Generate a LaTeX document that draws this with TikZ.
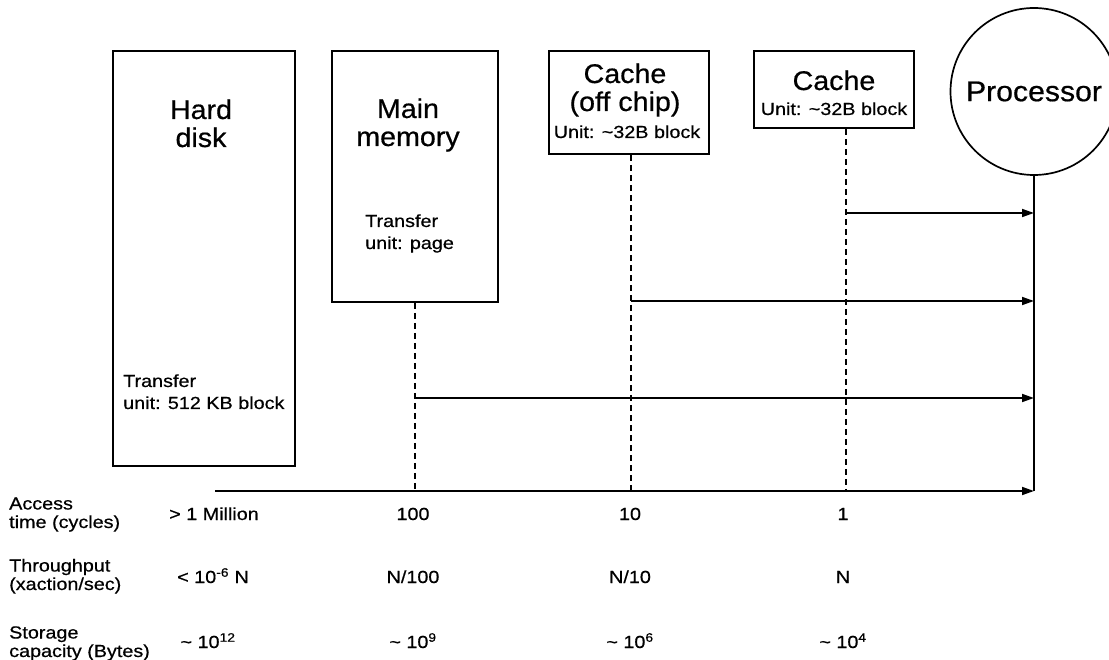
\documentclass[tikz,border=0pt]{standalone}
\usepackage{fontspec}
\setmainfont{Liberation Sans}[FakeStretch=1.13, FakeBold=0.6]
\newfontfamily\bigfam{Liberation Sans}[FakeStretch=1.06, FakeBold=0.6]
\usetikzlibrary{arrows.meta}
\begin{document}
\begin{tikzpicture}[x=1pt,y=-1pt,
  box/.style={draw, line width=1.7pt, inner sep=0pt, rectangle},
  bigtxt/.style={font=\bigfam\fontsize{27}{28}\selectfont, align=center, anchor=base, inner sep=0pt},
  smalltxt/.style={font=\fontsize{17.5}{22}\selectfont, inner sep=0pt},
  dashline/.style={line width=1.7pt, dash pattern=on 6pt off 4pt},
  arr/.style={line width=1.7pt, -{Triangle[length=12pt,width=8pt]}},
  plain/.style={line width=1.7pt}]
\useasboundingbox (0,0) rectangle (1109,660);
\clip (0,0) rectangle (1109,660);

% boxes
\node[box, minimum width=182pt, minimum height=415pt] (hd) at (204,258.5) {};
\node[box, minimum width=166pt, minimum height=251pt] (mm) at (415,176.5) {};
\node[box, minimum width=160pt, minimum height=103pt] (oc) at (629,102.5) {};
\node[box, minimum width=160pt, minimum height=77pt] (ca) at (834,89.5) {};
\node[draw, circle, line width=1.7pt, minimum size=167pt, inner sep=0pt,
      font=\bigfam\fontsize{28.5}{30}\selectfont] (proc) at (1034,91.5) {Processor};

% box texts (base anchor = last line)
\node[bigtxt] (hdt) at (201,147) {Hard\\disk};
\node[bigtxt] (mmt) at (408,146) {Main\\memory};
\node[smalltxt, anchor=base west, align=left] (mmu) at (365,249) {Transfer\\unit: page};
\node[smalltxt, anchor=base west, align=left] (hdu) at (123,409) {Transfer\\unit: 512 KB block};
\node[bigtxt] (oct1) at (625,83) {Cache};
\node[bigtxt] (oct2) at (625,111) {(off chip)};
\node[smalltxt, anchor=base] (ocu) at (627,138) {Unit: \textasciitilde32B block};
\node[bigtxt] (cat1) at (834,90) {Cache};
\node[smalltxt, anchor=base] (cau) at (834,115) {Unit: \textasciitilde32B block};

% coordinates
\coordinate (d1) at (415,491);
\coordinate (d2) at (631,491);
\coordinate (d3) at (846,491);
\coordinate (a1) at (846,213);
\coordinate (a2) at (631,301);
\coordinate (a3) at (415,398);
\coordinate (a4) at (215,491);
\coordinate (pb) at (1034,491);

% dashed drops
\draw[dashline] (mm.south -| d1) -- (d1);
\draw[dashline] (oc.south -| d2) -- (d2);
\draw[dashline] (ca.south -| d3) -- (d3);

% processor line
\draw[plain] (proc.south) -- (pb);

% arrows
\draw[arr] (a1) -- (a1 -| proc.south);
\draw[arr] (a2) -- (a2 -| proc.south);
\draw[arr] (a3) -- (a3 -| proc.south);
\draw[arr] (a4) -- (pb);

% table
\node[smalltxt, anchor=base west, align=left, font=\fontsize{17.5}{18.5}\selectfont] (l1) at (9,528) {Access\\time (cycles)};
\node[smalltxt, anchor=base west, align=left, font=\fontsize{17.5}{18.5}\selectfont] (l2) at (9,590) {Throughput\\(xaction/sec)};
\node[smalltxt, anchor=base west, align=left, font=\fontsize{17.5}{18.5}\selectfont] (l3) at (9,657) {Storage\\capacity (Bytes)};

\node[smalltxt, anchor=base] (v11) at (214,520) {> 1 Million};
\node[smalltxt, anchor=base] (v12) at (413,520) {100};
\node[smalltxt, anchor=base] (v13) at (630,520) {10};
\node[smalltxt, anchor=base] (v14) at (843,520) {1};

\node[smalltxt, anchor=base] (v21) at (213,583) {< 10\textsuperscript{-6} N};
\node[smalltxt, anchor=base] (v22) at (413,583) {N/100};
\node[smalltxt, anchor=base] (v23) at (630,583) {N/10};
\node[smalltxt, anchor=base] (v24) at (843,583) {N};

\node[smalltxt, anchor=base] (v31) at (208,648) {\textasciitilde{} 10\textsuperscript{12}};
\node[smalltxt, anchor=base] (v32) at (413,648) {\textasciitilde{} 10\textsuperscript{9}};
\node[smalltxt, anchor=base] (v33) at (630,648) {\textasciitilde{} 10\textsuperscript{6}};
\node[smalltxt, anchor=base] (v34) at (843,648) {\textasciitilde{} 10\textsuperscript{4}};
\end{tikzpicture}
\end{document}
